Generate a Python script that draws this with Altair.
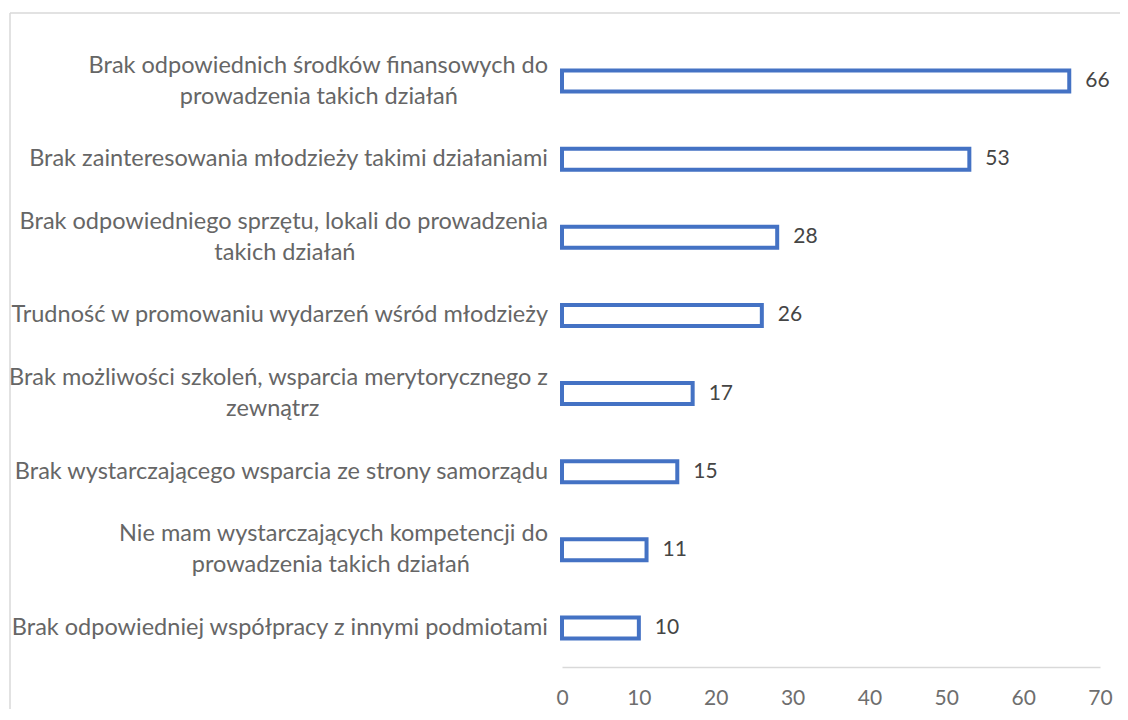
import altair as alt
import pandas as pd

line1 = [
    "Brak odpowiednich środków finansowych do",
    "Brak zainteresowania młodzieży takimi działaniami",
    "Brak odpowiedniego sprzętu, lokali do prowadzenia",
    "Trudność w promowaniu wydarzeń wśród młodzieży",
    "Brak możliwości szkoleń, wsparcia merytorycznego z",
    "Brak wystarczającego wsparcia ze strony samorządu",
    "Nie mam wystarczających kompetencji do",
    "Brak odpowiedniej współpracy z innymi podmiotami",
]
line2 = [
    "prowadzenia takich działań",
    "",
    "takich działań",
    "",
    "zewnątrz",
    "",
    "prowadzenia takich działań",
    "",
]
values = [66, 53, 28, 26, 17, 15, 11, 10]
ticks = [0, 10, 20, 30, 40, 50, 60, 70]

FONT = "Lato"
FS_LABEL = 23.5
FS_NUM = 21
LH = 31


def label_text(a, b):
    # second line centred under the first one (padded with no-break spaces)
    if not b:
        return a
    n = round((len(a) - len(b)) * 0.82 + 3.5)
    return a + "\n" + b + "\u00a0" * n + "\u200b"


cats = [f"{i}" for i in range(len(values))]
df = pd.DataFrame({
    "cat": cats,
    "label": [label_text(a, b) for a, b in zip(line1, line2)],
    "lines": [2 if b else 1 for b in line2],
    "value": values,
})

y_enc = alt.Y("cat:N", sort=cats, axis=None,
              scale=alt.Scale(paddingInner=0, paddingOuter=0))

base = alt.Chart(df)

bars = base.mark_bar(fill="white", stroke="#4472C4", strokeWidth=4, size=21).encode(
    x=alt.X("value:Q", scale=alt.Scale(domain=[0, 70]),
            axis=alt.Axis(values=ticks, grid=False, ticks=False, title=None,
                          labelFlush=False,
                          domainColor="#d9d9d9", domainWidth=1.5,
                          labelColor="#6e6e6e", labelFont=FONT, labelFontSize=FS_NUM,
                          labelPadding=20)),
    y=y_enc,
)

vals = base.mark_text(align="left", baseline="middle", dx=16, font=FONT,
                      fontSize=FS_NUM, color="#454545").encode(
    x="value:Q", y=y_enc, text="value:Q")

labels_one = base.transform_filter("datum.lines == 1").mark_text(
    align="right", baseline="middle", font=FONT, fontSize=FS_LABEL,
    color="#666666").encode(x=alt.value(-14), y=y_enc, text="label:N")

labels_two = base.transform_filter("datum.lines == 2").mark_text(
    align="right", baseline="middle", lineBreak="\n", lineHeight=LH,
    dy=-LH / 2, font=FONT, fontSize=FS_LABEL, color="#666666").encode(
    x=alt.value(-14), y=y_enc, text="label:N")

one = alt.Chart(pd.DataFrame({"k": [0]}))
border_top = one.mark_rule(color="#d9d9d9", strokeWidth=1.5).encode(
    x=alt.value(-552), x2=alt.value(700), y=alt.value(-29))
border_left = one.mark_rule(color="#d9d9d9", strokeWidth=1.5).encode(
    x=alt.value(-552), y=alt.value(-29), y2=alt.value(800))

chart = alt.layer(border_top, border_left, bars, vals, labels_one, labels_two).properties(
    width=538, height=625,
    autosize=alt.AutoSizeParams(type="none"),
    padding={"left": 554, "top": 34, "right": 20, "bottom": 42},
).configure_view(stroke=None)

chart.save("out.html", embed_options={"renderer": "svg", "actions": False})
